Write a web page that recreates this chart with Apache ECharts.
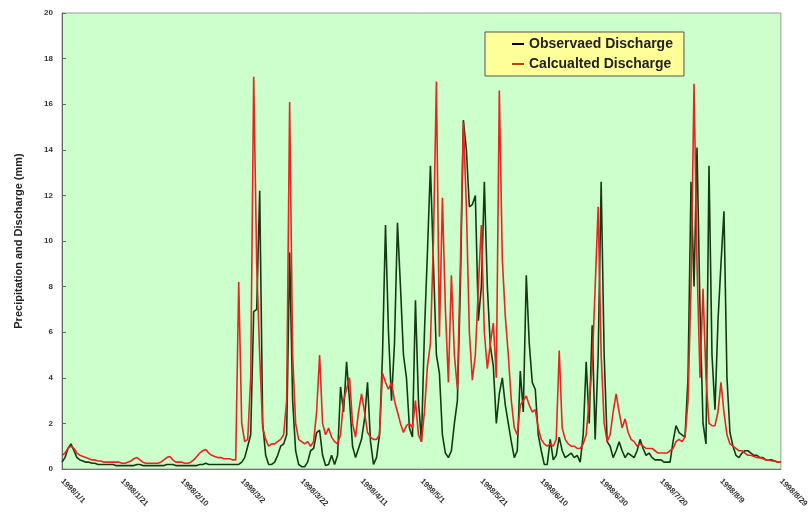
<!DOCTYPE html>
<html>
<head>
<meta charset="utf-8">
<script src="https://cdn.jsdelivr.net/npm/echarts@6/dist/echarts.min.js"></script>
<style>
html,body{margin:0;padding:0;background:#fff;overflow:hidden;}
#chart{width:811px;height:519px;}
</style>
</head>
<body>
<div id="chart"></div>
<script>
// Tick labels shown every 20 samples
var tickLabels = ["1998/1/1","1998/1/21","1998/2/10","1998/3/2","1998/3/22","1998/4/11","1998/5/1","1998/5/21","1998/6/10","1998/6/30","1998/7/20","1998/8/9","1998/8/29"];
var labelStep = 20;

// Observed discharge (mm)
var observed = [
0.3,0.5,0.9,1.1,0.8,0.5,0.4,0.35,0.3,0.3,0.25,0.25,0.2,0.2,0.2,0.2,0.2,0.2,0.15,0.15,
0.15,0.15,0.15,0.15,0.15,0.2,0.2,0.15,0.15,0.15,0.15,0.15,0.15,0.15,0.15,0.2,0.2,0.2,0.15,0.15,
0.15,0.15,0.15,0.15,0.15,0.15,0.2,0.2,0.25,0.2,0.2,0.2,0.2,0.2,0.2,0.2,0.2,0.2,0.2,0.2,
0.3,0.5,1.0,1.5,6.9,7.0,12.2,2.0,0.6,0.2,0.2,0.3,0.6,1.0,1.1,1.5,9.5,3.0,0.8,0.2,
0.1,0.1,0.3,0.8,0.9,1.6,1.7,0.6,0.15,0.2,0.6,0.2,0.6,3.6,2.5,4.7,3.0,1.0,0.5,0.9,
1.3,2.2,3.8,1.2,0.2,0.5,1.5,5.0,10.7,6.0,3.0,5.5,10.8,8.0,5.0,4.0,1.8,1.4,7.4,3.0,
1.2,6.0,9.5,13.3,9.0,5.0,4.2,1.5,0.7,0.5,0.8,2.0,3.0,8.0,15.3,14.0,11.5,11.6,12.0,6.5,
8.0,12.6,8.0,5.4,4.5,2.0,3.3,4.0,2.8,2.0,1.2,0.5,0.8,4.3,2.5,8.5,5.5,3.8,3.5,1.5,
0.8,0.2,0.2,1.3,0.4,0.6,1.4,0.8,0.5,0.6,0.7,0.5,0.6,0.3,1.5,4.7,2.0,6.3,1.3,5.0,
12.6,5.0,1.2,1.0,0.5,0.8,1.2,0.8,0.5,0.7,0.6,0.5,0.8,1.3,0.9,0.6,0.7,0.5,0.4,0.4,
0.4,0.3,0.3,0.3,1.2,1.9,1.6,1.5,1.4,4.0,12.6,8.0,14.1,7.0,2.0,1.1,13.3,5.0,2.6,6.5,
9.0,11.3,4.0,1.6,1.0,0.6,0.5,0.7,0.8,0.8,0.7,0.6,0.6,0.5,0.5,0.4,0.4,0.4,0.35,0.3,
0.3
];

// Calculated discharge (mm)
var calculated = [
0.6,0.7,0.9,1.0,0.9,0.7,0.6,0.55,0.5,0.45,0.4,0.4,0.35,0.35,0.3,0.3,0.3,0.3,0.3,0.3,
0.25,0.25,0.3,0.35,0.45,0.5,0.4,0.3,0.25,0.25,0.25,0.25,0.25,0.3,0.4,0.5,0.55,0.4,0.3,0.3,
0.3,0.25,0.25,0.3,0.4,0.55,0.7,0.8,0.85,0.7,0.6,0.55,0.5,0.5,0.45,0.45,0.45,0.4,0.4,8.2,
2.0,1.2,1.3,4.0,17.2,9.0,5.0,1.8,1.3,1.0,1.1,1.1,1.2,1.3,1.5,3.0,16.1,5.0,2.0,1.3,
1.2,1.1,1.2,1.0,1.2,2.5,5.0,2.0,1.5,1.8,1.4,1.2,1.1,1.5,3.0,3.5,4.0,2.0,1.4,2.5,
3.3,2.5,1.6,1.4,1.3,1.3,1.5,4.2,3.8,3.5,3.8,3.0,2.5,2.0,1.6,1.9,2.0,1.8,3.0,1.5,
1.2,2.5,4.5,5.5,10.0,17.0,5.8,11.9,7.0,3.8,8.5,5.0,3.5,9.0,15.2,11.5,6.0,3.9,5.0,8.0,
10.7,6.0,4.4,5.5,6.4,4.0,16.6,9.2,6.7,5.0,3.0,1.8,1.5,2.8,3.0,3.2,2.8,2.5,2.6,1.8,
1.3,1.1,1.0,1.1,1.0,1.3,5.2,1.8,1.3,1.1,1.0,1.0,0.9,0.9,1.1,1.5,3.0,4.5,8.0,11.5,
5.0,2.0,1.2,1.5,2.5,3.3,2.5,1.8,2.2,1.6,1.3,1.2,1.0,1.1,1.0,0.9,0.9,0.9,0.8,0.7,
0.7,0.7,0.7,0.8,0.9,1.2,1.3,1.2,1.4,3.0,8.0,16.9,9.0,4.0,7.9,4.0,2.0,1.9,1.9,2.5,
3.8,2.5,1.5,1.1,1.0,0.9,0.8,0.8,0.7,0.6,0.6,0.55,0.5,0.5,0.45,0.4,0.4,0.35,0.35,0.3,
0.3
];

var categories = observed.map(function (v, i) { return i; });

var chart = echarts.init(document.getElementById('chart'), null, {renderer: 'canvas'});
chart.setOption({
  animation: false,
  backgroundColor: '#ffffff',
  grid: {
    left: 62, right: 24, top: 13, bottom: 50,
    show: true, backgroundColor: '#ccffcc', borderColor: '#9a9a9a', borderWidth: 1
  },
  legend: {
    orient: 'vertical',
    left: 485, top: 32,
    padding: [5, 11, 5, 27],
    itemGap: 6,
    itemWidth: 12, itemHeight: 2,
    icon: 'rect',
    backgroundColor: '#ffff99',
    borderColor: '#555555', borderWidth: 1,
    textStyle: {fontFamily: 'Liberation Sans, Arial, sans-serif', fontWeight: 'bold', fontSize: 14, color: '#222'},
    data: [
      {name: 'Observaed Discharge', itemStyle: {color: '#000000'}},
      {name: 'Calcualted Discharge', itemStyle: {color: '#b84a10'}}
    ]
  },
  xAxis: {
    type: 'category',
    data: categories,
    boundaryGap: false,
    axisLine: {lineStyle: {color: '#777', width: 1}},
    axisTick: {show: false},
    splitLine: {show: false},
    axisLabel: {
      interval: labelStep - 1,
      rotate: -45,
      margin: 11,
      fontFamily: 'Liberation Sans, Arial, sans-serif',
      fontWeight: 'bold', fontSize: 8, color: '#333',
      formatter: function (v, i) { return tickLabels[Math.round(i / labelStep)] || ''; }
    }
  },
  yAxis: {
    type: 'value',
    min: 0, max: 20, interval: 2,
    name: 'Precipitation and Discharge (mm)',
    nameLocation: 'middle',
    nameRotate: 90,
    nameGap: 38,
    nameTextStyle: {fontFamily: 'Liberation Sans, Arial, sans-serif', fontWeight: 'bold', fontSize: 11, color: '#222'},
    axisLine: {show: true, lineStyle: {color: '#666', width: 1}},
    axisTick: {show: true, inside: true, length: 4, lineStyle: {color: '#666'}},
    splitLine: {show: false},
    axisLabel: {
      margin: 9,
      fontFamily: 'Liberation Sans, Arial, sans-serif',
      fontWeight: 'bold', fontSize: 8, color: '#333'
    }
  },
  series: [
    {
      name: 'Observaed Discharge', type: 'line', data: observed,
      showSymbol: false, symbol: 'none',
      lineStyle: {color: '#143a14', width: 1.6},
      itemStyle: {color: '#143a14'}
    },
    {
      name: 'Calcualted Discharge', type: 'line', data: calculated,
      showSymbol: false, symbol: 'none',
      lineStyle: {color: '#e8261f', width: 1.6},
      itemStyle: {color: '#e8261f'}
    }
  ]
});
</script>
</body>
</html>
